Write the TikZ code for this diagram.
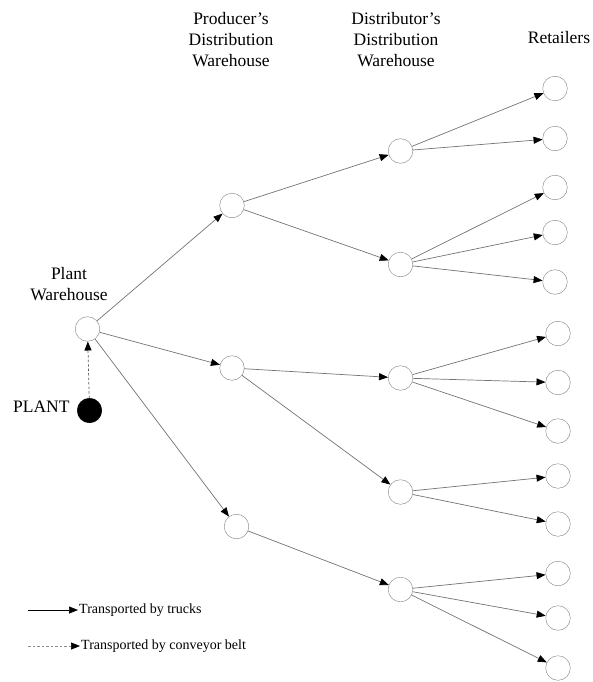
\documentclass[tikz,border=0pt]{standalone}
\usepackage{fontspec}
\setmainfont{Liberation Serif}
\usetikzlibrary{arrows.meta}
\tikzset{
  site/.style={circle,draw=black!50,fill=white,minimum size=24.6pt,inner sep=0pt},
  truck/.style={draw=black!55,line width=0.7pt,-{Triangle[length=9pt,width=7pt,black]}},
  belt/.style={draw=black!65,line width=0.7pt,dash pattern=on 2.5pt off 2pt,
    -{Triangle[length=9pt,width=7pt,black]}},
  head/.style={align=center,font=\fontsize{17.5}{21}\selectfont}
}
\begin{document}
\begin{tikzpicture}[x=1pt,y=-1pt]
    \useasboundingbox (0,0) rectangle (593,682);
    % column titles
    \node[head] (hp) at (231,40) {Producer’s\\Distribution\\Warehouse};
    \node[head] (hd) at (396,40) {Distributor’s\\Distribution\\Warehouse};
    \node[head] (hr) at (559,38) {Retailers};
    \node[head] (hw) at (69,284) {Plant\\Warehouse};

    % plant and plant warehouse
    \node[site] (pw) at (87.5,329) {};
    \node[site,fill=black,draw=black] (plant) at (89.5,410.5) {};
    \node[anchor=east,font=\fontsize{17.5}{21}\selectfont] (pl) at (73,407) {PLANT};
    \draw[belt] (plant) -- (pw);

    % producer's warehouses
    \node[site] (p1) at (232,205.5) {};
    \node[site] (p2) at (232,368) {};
    \node[site] (p3) at (236.5,526.5) {};

    % distributor's warehouses
    \node[site] (d1) at (400.5,151) {};
    \node[site] (d2) at (400.5,264.5) {};
    \node[site] (d3) at (400.5,378) {};
    \node[site] (d4) at (400.5,492) {};
    \node[site] (d5) at (400.5,589.5) {};

    % retailers
    \node[site] (r1) at (555,88.5) {};
    \node[site] (r2) at (555,138.5) {};
    \node[site] (r3) at (555,187.5) {};
    \node[site] (r4) at (555,232.5) {};
    \node[site] (r5) at (555,282) {};
    \node[site] (r6) at (558,333.5) {};
    \node[site] (r7) at (558,382.5) {};
    \node[site] (r8) at (558,431) {};
    \node[site] (r9) at (558,476) {};
    \node[site] (r10) at (558,524) {};
    \node[site] (r11) at (558,573.5) {};
    \node[site] (r12) at (558,618) {};
    \node[site] (r13) at (558,668) {};

    % trucks
    \draw[truck] (pw) -- (p1);
    \draw[truck] (pw) -- (p2);
    \draw[truck] (pw) -- (p3);
    \draw[truck] (p1) -- (d1);
    \draw[truck] (p1) -- (d2);
    \draw[truck] (p2) -- (d3);
    \draw[truck] (p2) -- (d4);
    \draw[truck] (p3) -- (d5);
    \draw[truck] (d1) -- (r1);
    \draw[truck] (d1) -- (r2);
    \draw[truck] (d2) -- (r3);
    \draw[truck] (d2) -- (r4);
    \draw[truck] (d2) -- (r5);
    \draw[truck] (d3) -- (r6);
    \draw[truck] (d3) -- (r7);
    \draw[truck] (d3) -- (r8);
    \draw[truck] (d4) -- (r9);
    \draw[truck] (d4) -- (r10);
    \draw[truck] (d5) -- (r11);
    \draw[truck] (d5) -- (r12);
    \draw[truck] (d5) -- (r13);

    % legend
    \coordinate (t0) at (28,610);
    \node[anchor=west,inner sep=1pt,font=\fontsize{14}{16}\selectfont] (lt) at (78,610)
        {Transported by trucks};
    \draw[truck,draw=black] (t0) -- (lt.west);
    \coordinate (c0) at (28,646);
    \node[anchor=west,inner sep=1pt,font=\fontsize{14}{16}\selectfont] (lc) at (80,646)
        {Transported by conveyor belt};
    \draw[belt,draw=black!45] (c0) -- (lc.west);
\end{tikzpicture}
\end{document}
